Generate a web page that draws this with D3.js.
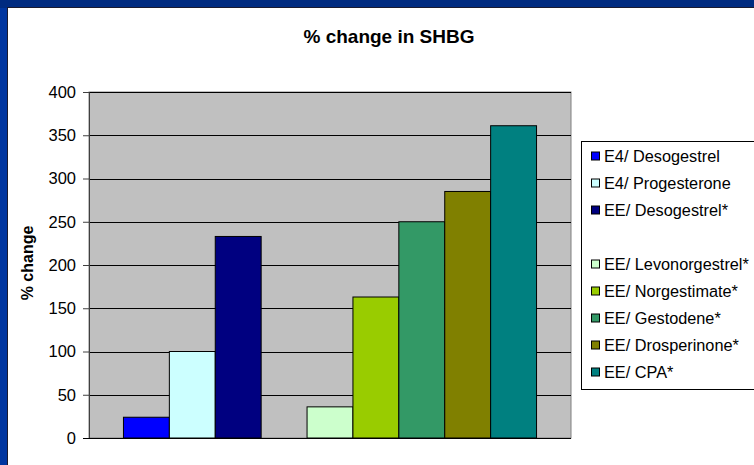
<!DOCTYPE html>
<html>
<head>
<meta charset="utf-8">
<script src="https://cdn.jsdelivr.net/npm/d3@7/dist/d3.min.js"></script>
<style>
html,body{margin:0;padding:0;background:#fff;}
svg{display:block;}
text{font-family:"Liberation Sans",Arial,sans-serif;fill:#000;}
</style>
</head>
<body>
<svg id="chart" width="754" height="465"></svg>
<script>
const categories = [""];
const seriesNames = ["E4/ Desogestrel","E4/ Progesterone","EE/ Desogestrel*","","EE/ Levonorgestrel*","EE/ Norgestimate*","EE/ Gestodene*","EE/ Drosperinone*","EE/ CPA*"];
const seriesValues = [24,100,233,null,36,163,250,285,361];
const seriesColors = ["#0000ff","#ccffff","#000080",null,"#ccffcc","#99cc00","#339966","#808000","#008080"];
const yTicks = [0,50,100,150,200,250,300,350,400];
const titleText = "% change in SHBG";
const yLabel = "% change";

const svg = d3.select("#chart");
// frame
svg.append("rect").attr("x",0).attr("y",0).attr("width",754).attr("height",465).attr("fill","#0036a0");
svg.append("rect").attr("x",0).attr("y",0).attr("width",754).attr("height",8).attr("fill","#002b80");
svg.append("rect").attr("x",7).attr("y",7).attr("width",747).attr("height",458).attr("fill","#1a1a2e");
svg.append("rect").attr("x",8).attr("y",8).attr("width",746).attr("height",457).attr("fill","#ffffff");

const plot = {left:89, right:571, top:92, bottom:438};

const x0 = d3.scaleBand().domain(categories).range([plot.left, plot.right]).paddingInner(0.077).paddingOuter(0.077);
const x1 = d3.scaleBand().domain(d3.range(seriesNames.length)).range([0, x0.bandwidth()]).padding(0);
const y = d3.scaleLinear().domain([0,400]).range([plot.bottom, plot.top]);

// plot background
svg.append("rect").attr("x",plot.left).attr("y",plot.top)
  .attr("width",plot.right-plot.left).attr("height",plot.bottom-plot.top)
  .attr("fill","#c0c0c0").attr("stroke","#808080").attr("stroke-width",1);

// gridlines
svg.append("g").selectAll("line").data(yTicks.filter(t=>t>0)).join("line")
  .attr("x1",plot.left).attr("x2",plot.right)
  .attr("y1",d=>Math.round(y(d))+0.5).attr("y2",d=>Math.round(y(d))+0.5)
  .attr("stroke","#000").attr("stroke-width",1);

// bars
const g = svg.append("g").attr("transform",`translate(${x0(categories[0])},0)`);
g.selectAll("rect").data(seriesValues.map((v,i)=>({v,i})).filter(d=>d.v!==null)).join("rect")
  .attr("x",d=>x1(d.i)).attr("width",x1.bandwidth())
  .attr("y",d=>y(d.v)).attr("height",d=>y(0)-y(d.v))
  .attr("fill",d=>seriesColors[d.i]).attr("stroke","#000").attr("stroke-width",1);

// y axis
const yAxis = d3.axisLeft(y).tickValues(yTicks).tickSize(6).tickPadding(7).tickFormat(d3.format("d"));
const ay = svg.append("g").attr("transform",`translate(${plot.left},0)`).call(yAxis);
ay.select(".domain").attr("stroke","#404040");
ay.selectAll(".tick line").attr("stroke","#404040");
ay.selectAll(".tick text").style("font-size","16.5px").style("font-family","'Liberation Sans',Arial,sans-serif").attr("fill","#000");
// x axis baseline
svg.append("line").attr("x1",plot.left-6).attr("x2",plot.right).attr("y1",y(0)+0.5).attr("y2",y(0)+0.5).attr("stroke","#000");

// title
svg.append("text").attr("x",389).attr("y",43).attr("text-anchor","middle")
  .style("font-size","19px").style("font-weight","bold").text(titleText);

// y label
svg.append("text").attr("transform","translate(33,263) rotate(-90)").attr("text-anchor","middle")
  .style("font-size","16px").style("font-weight","bold").text(yLabel);

// legend
const lg = svg.append("g");
lg.append("rect").attr("x",581.5).attr("y",141.5).attr("width",180).attr("height",248)
  .attr("fill","#fff").attr("stroke","#000").attr("stroke-width",1);
const rowY = d3.scaleBand().domain(d3.range(seriesNames.length)).range([142,385]);
const items = lg.selectAll("g.item").data(seriesNames.map((n,i)=>({n,i})).filter(d=>d.n!=="")).join("g")
  .attr("class","item").attr("transform",d=>`translate(0,${rowY(d.i)+rowY.bandwidth()/2})`);
items.append("rect").attr("x",591.5).attr("y",-3.5).attr("width",8).attr("height",8)
  .attr("fill",d=>seriesColors[d.i]).attr("stroke","#000").attr("stroke-width",1);
items.append("text").attr("x",604).attr("y",6).style("font-size","16.3px").text(d=>d.n);
</script>
</body>
</html>
